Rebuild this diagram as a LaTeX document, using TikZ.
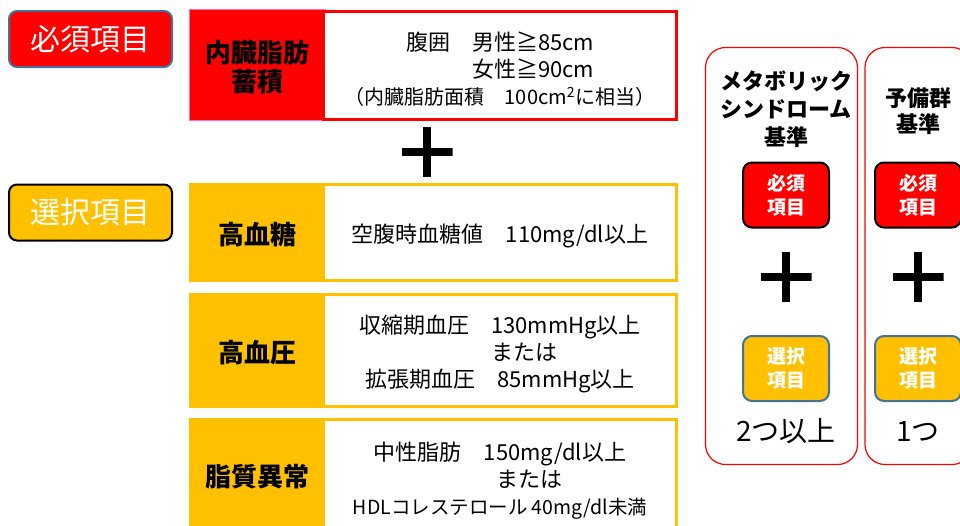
\documentclass[tikz,border=0pt]{standalone}
\usepackage{fontspec}
\setmainfont{Noto Sans CJK JP}
\usepackage{tikz}
\usetikzlibrary{calc}
\definecolor{mustColor}{rgb}{1,0,0}
\definecolor{optColor}{RGB}{255,192,0}
\definecolor{edgeColor}{RGB}{65,113,156}
\definecolor{rimColor}{RGB}{255,110,200}
\tikzset{
	tag/.style={rounded corners=8, line width=2, minimum width=163, minimum height=56, inner sep=0, text=white, font=\fontsize{30}{34}\selectfont},
	minitag/.style={rounded corners=9, line width=2, minimum width=86, minimum height=65, inner sep=0, text=white, align=center, font=\bfseries\fontsize{19}{24}\selectfont},
	catbox/.style={minimum width=136, inner sep=0, align=center, font=\bfseries\fontsize{26}{29}\selectfont},
	descbox/.style={draw, fill=white, line width=3, minimum width=353, inner sep=0},
	desctext/.style={inner sep=0, align=center, font=\fontsize{22}{27}\selectfont},
	panel/.style={draw=mustColor, line width=1.2, rounded corners=20, inner sep=0},
	plusmark/.style={fill=white, minimum width=51, minimum height=50, inner sep=0, path picture={
		\draw[line width=8] (path picture bounding box.west) -- (path picture bounding box.east)
			(path picture bounding box.north) -- (path picture bounding box.south);}}
}

\begin{document}
\begin{tikzpicture}[x=1pt,y=-1pt]
\useasboundingbox (0,0) rectangle (960,525);
% left tags
\node[tag, fill=mustColor, draw=edgeColor] (mustTag) at (90.5,39) {必須項目};
\node[tag, fill=optColor, draw=black] (optTag) at (90.5,212.5) {選択項目};
% required item
\node[catbox, fill=mustColor, draw=rimColor, line width=0.8, minimum height=111] (fat) at (257,65) {};
\node[catbox] (fatText) at ($(fat.center)+(0,2)$) {内臓脂肪\\蓄積};
\node[descbox, draw=mustColor, minimum height=108] (waist) at (500,65.5) {};
\node[desctext] (waistText) at ($(waist.center)+(0,4)$) {腹囲　男性≧85cm\\\hphantom{腹囲　}女性≧90cm\\{\fontsize{20}{22}\selectfont（内臓脂肪面積　100cm\textsuperscript{2}に相当）}};
\node[plusmark] (plusMain) at (427,152) {};
% optional items
\node[catbox, fill=optColor, minimum height=99] (sugar) at (257,232.5) {};
\node[catbox] (sugarText) at ($(sugar.center)+(0,2.5)$) {高血糖};
\node[descbox, draw=optColor, minimum height=96] (sugarVal) at (500,232) {};
\node[desctext] (sugarValText) at ($(sugarVal.center)+(0,3.5)$) {空腹時血糖値　110mg/dl以上};
\node[catbox, fill=optColor, minimum height=115] (press) at (257,350.5) {};
\node[catbox] (pressText) at ($(press.center)+(0,2)$) {高血圧};
\node[descbox, draw=optColor, minimum height=112] (pressVal) at (500,350.5) {};
\node[desctext] (pressValText) at ($(pressVal.center)+(0,3)$) {収縮期血圧　130mmHg以上\\\hphantom{収縮期血圧　}\rlap{または}\hphantom{130mmHg以上}\\拡張期血圧　85mmHg以上};
\node[catbox, fill=optColor, minimum height=118] (lipid) at (257,477) {};
\node[catbox] (lipidText) at (lipid.center) {脂質異常};
\node[descbox, draw=optColor, minimum height=115] (lipidVal) at (500,477) {};
\node[desctext] (lipidValText) at ($(lipidVal.center)+(0,3.5)$) {中性脂肪　150mg/dl以上\\\hphantom{中性脂肪　1}\rlap{または}\hphantom{50mg/dl以上}\\{\fontsize{19.5}{22}\selectfont HDLコレステロール 40mg/dl未満}};
% criteria panels
\node[panel, minimum width=152, minimum height=417] (metaPanel) at (781.5,256) {};
\node[panel, minimum width=107, minimum height=417] (prePanel) at (918.5,256) {};
\node[align=center, inner sep=0, font=\bfseries\fontsize{22}{28}\selectfont] (metaTitle) at (786,109) {メタボリック\\シンドローム\\基準};
\node[align=center, inner sep=0, font=\bfseries\fontsize{22}{26}\selectfont] (preTitle) at (918,111) {予備群\\基準};
\foreach \cx/\nm in {786/meta,918/pre} {
	\node[minitag, fill=mustColor, draw=black] (\nm-must) at (\cx,195) {必須\\項目};
	\node[plusmark] (\nm-plus) at (\cx,277) {};
	\node[minitag, fill=optColor, draw=edgeColor] (\nm-opt) at (\cx,368.5) {選択\\項目};
}
\node[font=\fontsize{28}{32}\selectfont, inner sep=0] (metaCount) at (786,431) {2つ以上};
\node[font=\fontsize{28}{32}\selectfont, inner sep=0] (preCount) at (918,432) {1つ};
\end{tikzpicture}
\end{document}
